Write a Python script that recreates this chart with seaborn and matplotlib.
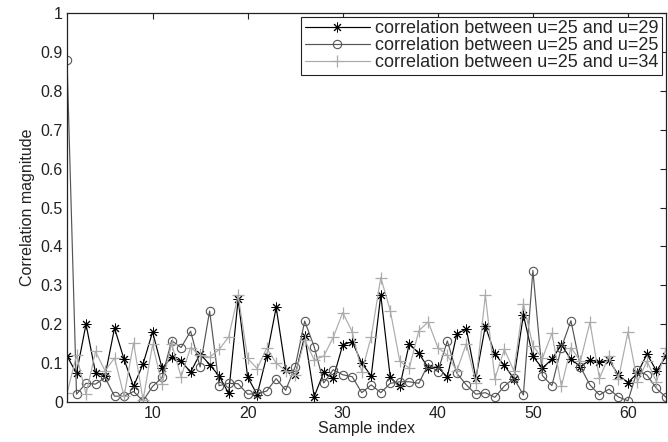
import numpy as np
import pandas as pd
import matplotlib
matplotlib.use("Agg")
import matplotlib.pyplot as plt
import seaborn as sns

sample_index = list(range(1, 65))

corr_25_29 = [0.118, 0.074, 0.200, 0.075, 0.067, 0.190, 0.110, 0.040, 0.098, 0.180,
              0.087, 0.115, 0.105, 0.077, 0.124, 0.096, 0.067, 0.022, 0.264, 0.064,
              0.019, 0.117, 0.243, 0.083, 0.070, 0.170, 0.014, 0.076, 0.061, 0.147,
              0.155, 0.100, 0.067, 0.275, 0.063, 0.040, 0.150, 0.125, 0.088, 0.090,
              0.064, 0.175, 0.188, 0.061, 0.195, 0.123, 0.094, 0.060, 0.224, 0.117,
              0.087, 0.110, 0.147, 0.110, 0.091, 0.108, 0.102, 0.108, 0.069, 0.050,
              0.074, 0.123, 0.080, 0.117]

corr_25_25 = [0.880, 0.020, 0.048, 0.046, 0.063, 0.015, 0.015, 0.027, 0.003, 0.040,
              0.063, 0.158, 0.140, 0.182, 0.090, 0.234, 0.042, 0.048, 0.047, 0.020,
              0.022, 0.028, 0.060, 0.030, 0.091, 0.208, 0.142, 0.049, 0.083, 0.070,
              0.065, 0.024, 0.044, 0.024, 0.048, 0.052, 0.052, 0.048, 0.097, 0.078,
              0.157, 0.074, 0.044, 0.020, 0.024, 0.012, 0.041, 0.061, 0.018, 0.338,
              0.068, 0.042, 0.140, 0.209, 0.090, 0.044, 0.018, 0.033, 0.013, 0.003,
              0.082, 0.069, 0.035, 0.012]

corr_25_34 = [0.022, 0.120, 0.020, 0.130, 0.080, 0.113, 0.015, 0.152, 0.005, 0.148,
              0.045, 0.150, 0.065, 0.140, 0.120, 0.115, 0.135, 0.167, 0.275, 0.112,
              0.086, 0.138, 0.100, 0.080, 0.070, 0.160, 0.108, 0.118, 0.166, 0.230,
              0.180, 0.077, 0.168, 0.320, 0.235, 0.105, 0.087, 0.183, 0.206, 0.140,
              0.120, 0.080, 0.150, 0.050, 0.275, 0.060, 0.135, 0.080, 0.253, 0.145,
              0.112, 0.177, 0.040, 0.140, 0.105, 0.205, 0.061, 0.118, 0.060, 0.180,
              0.052, 0.105, 0.052, 0.138]

labels = ["correlation between u=25 and u=29",
          "correlation between u=25 and u=25",
          "correlation between u=25 and u=34"]

x_ticks = [10, 20, 30, 40, 50, 60]
y_ticks = [0, 0.1, 0.2, 0.3, 0.4, 0.5, 0.6, 0.7, 0.8, 0.9, 1.0]
y_tick_labels = ["0", "0.1", "0.2", "0.3", "0.4", "0.5", "0.6", "0.7", "0.8", "0.9", "1"]

sns.set_style("white")
plt.rcParams["font.family"] = ["Liberation Sans", "DejaVu Sans"]

fig = plt.figure(figsize=(6.68, 4.42), dpi=100)
ax = fig.add_axes([67 / 668, 1 - 402 / 442, (666 - 67) / 668, (402 - 13) / 442])

series = [
    (corr_25_29, dict(color="black", marker=(8, 2, 0), markersize=7,
                      markeredgewidth=0.7, markeredgecolor="black",
                      markerfacecolor="black")),
    (corr_25_25, dict(color="#555555", marker="o", markersize=6,
                      markeredgecolor="#555555",
                      markerfacecolor="none", markeredgewidth=0.8)),
    (corr_25_34, dict(color="#ababab", marker="+", markersize=8,
                      markeredgecolor="#ababab", markeredgewidth=0.9)),
]

for (vals, style), lab in zip(series, labels):
    sns.lineplot(x=sample_index, y=vals, ax=ax, label=lab, linewidth=0.85,
                 sort=False, estimator=None, **style)

ax.set_xlim(1, 64)
ax.set_ylim(0, 1)
ax.set_xticks(x_ticks)
ax.set_xticklabels([str(t) for t in x_ticks])
ax.set_yticks(y_ticks)
ax.set_yticklabels(y_tick_labels)
ax.tick_params(direction="in", length=4, width=0.8, top=True, right=True,
               labelsize=11.5, colors="#222222", pad=3)
for sp in ax.spines.values():
    sp.set_visible(True)
    sp.set_color("#222222")
    sp.set_linewidth(0.9)

ax.set_xlabel("Sample index", fontsize=11.5, color="#222222", labelpad=0)
ax.set_ylabel("Correlation magnitude", fontsize=11.5, color="#222222", labelpad=4)

leg = ax.legend(loc="upper right", fontsize=13, frameon=True, fancybox=False,
                edgecolor="#222222", framealpha=1, handlelength=3.6,
                handletextpad=0.3, labelspacing=0.0, borderpad=0.2,
                borderaxespad=0.2, numpoints=1)
leg.get_frame().set_linewidth(0.8)

fig.savefig("out.png", dpi=100, facecolor="white")
